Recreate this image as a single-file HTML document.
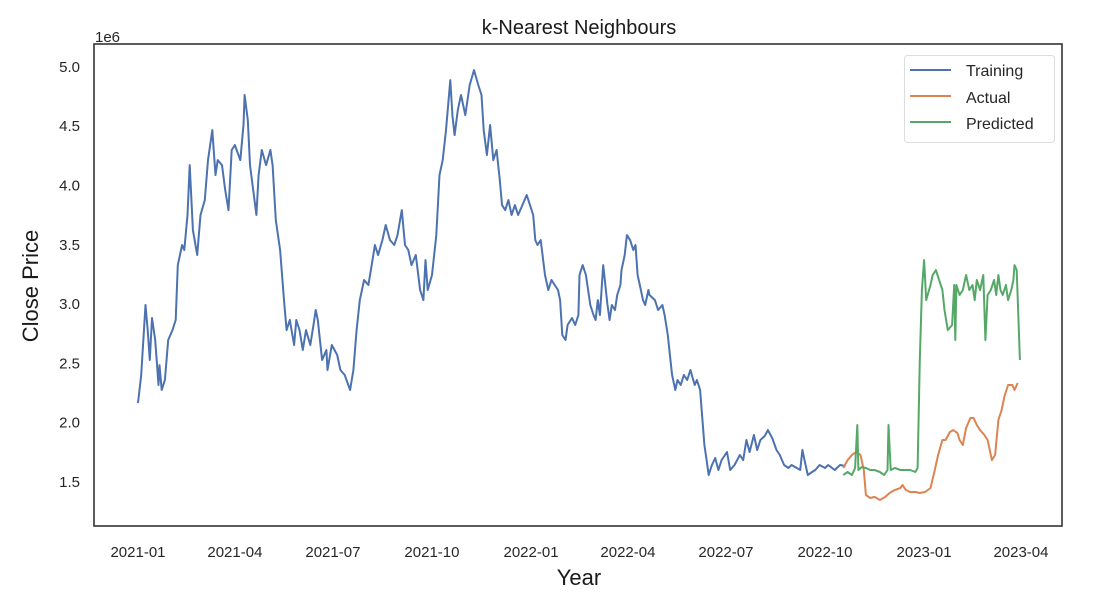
<!DOCTYPE html>
<html><head><meta charset="utf-8"><style>
body{margin:0;background:#fff;}
svg{display:block;font-family:"Liberation Sans",Arial,sans-serif;}
</style></head><body>
<svg id="chart" width="1094" height="597" viewBox="0 0 1094 597">
<rect x="0" y="0" width="1094" height="597" fill="#fff"/>
<text x="579" y="34" text-anchor="middle" font-size="20" fill="#1a1a1a">k-Nearest Neighbours</text>
<text x="95" y="42" font-size="15" fill="#262626">1e6</text>
<g id="yticks"></g>
<g id="xticks"></g>
<g id="series"></g>
<rect x="94" y="44" width="968" height="482" fill="none" stroke="#333" stroke-width="1.6"/>
<text x="579" y="585" text-anchor="middle" font-size="22" fill="#1a1a1a">Year</text>
<text x="0" y="0" transform="translate(38,286) rotate(-90)" text-anchor="middle" font-size="22" fill="#1a1a1a">Close Price</text>
<g>
<rect x="904.5" y="55.5" width="150" height="87" rx="3" fill="#fff" stroke="#ddd"/>
<g><line x1="910" y1="70" x2="951" y2="70" stroke="#4c72b0" stroke-width="2"/><text x="966" y="76" font-size="16" fill="#262626">Training</text></g>
<g><line x1="910" y1="96" x2="951" y2="96" stroke="#dd8452" stroke-width="2"/><text x="966" y="103" font-size="16" fill="#262626">Actual</text></g>
<g><line x1="910" y1="122" x2="951" y2="122" stroke="#55a868" stroke-width="2"/><text x="966" y="129" font-size="16" fill="#262626">Predicted</text></g>
</g>
</svg>
<script>
// days since 2021-01-01, values in millions
const trainDays=[0,3,7,9,11,13,16,19,20,22,25,28,32,35,37,41,43,46,48,51,55,58,62,65,69,72,74,78,81,84,87,90,95,98,99,102,104,107,110,112,115,119,123,125,128,132,136,138,141,145,147,150,153,156,160,163,165,167,171,175,176,180,185,188,192,197,200,203,206,210,214,217,220,223,227,230,234,238,241,245,248,251,254,258,262,265,267,269,273,277,280,283,286,290,292,294,297,300,304,308,312,316,319,321,324,327,330,333,336,338,341,344,347,350,353,357,361,364,367,369,371,374,378,381,384,387,390,392,394,397,399,403,406,409,410,413,416,420,423,425,427,429,432,435,436,438,440,443,445,448,449,452,454,457,460,462,464,466,469,471,474,475,480,483,487,489,492,494,496,499,501,504,507,510,513,517,519,522,526,528,530,533,536,539,542,547,550,554,559,562,565,568,572,575,578,582,585,589,593,596,600,604,607,615,617,619,622,626,629,633,638,641,647,652,657];
const trainVals=[2.166,2.402,2.992,2.781,2.529,2.883,2.697,2.318,2.486,2.276,2.36,2.697,2.781,2.866,3.329,3.498,3.456,3.751,4.172,3.624,3.414,3.751,3.877,4.214,4.467,4.088,4.214,4.172,3.962,3.793,4.299,4.341,4.214,4.51,4.763,4.552,4.172,3.962,3.751,4.088,4.299,4.172,4.299,4.172,3.709,3.456,2.992,2.781,2.866,2.655,2.866,2.781,2.613,2.781,2.655,2.824,2.95,2.866,2.529,2.613,2.444,2.655,2.571,2.444,2.402,2.276,2.444,2.781,3.034,3.203,3.161,3.329,3.498,3.414,3.54,3.667,3.54,3.498,3.582,3.793,3.498,3.456,3.329,3.414,3.119,3.034,3.371,3.119,3.245,3.582,4.088,4.214,4.467,4.889,4.594,4.425,4.636,4.763,4.594,4.847,4.973,4.847,4.763,4.467,4.257,4.51,4.214,4.299,4.046,3.835,3.793,3.877,3.751,3.835,3.751,3.835,3.92,3.835,3.751,3.54,3.498,3.54,3.245,3.119,3.203,3.161,3.119,3.034,2.739,2.697,2.824,2.883,2.824,2.908,3.245,3.329,3.245,2.992,2.908,2.866,3.034,2.908,3.329,3.077,2.992,2.866,2.992,2.95,3.077,3.161,3.287,3.414,3.582,3.54,3.456,3.498,3.245,3.161,3.034,2.992,3.119,3.077,3.034,2.95,2.992,2.908,2.739,2.571,2.402,2.276,2.36,2.318,2.402,2.36,2.444,2.318,2.36,2.276,1.812,1.685,1.559,1.643,1.702,1.601,1.685,1.753,1.601,1.643,1.728,1.685,1.854,1.753,1.896,1.77,1.854,1.888,1.938,1.871,1.77,1.728,1.643,1.618,1.643,1.601,1.77,1.685,1.559,1.584,1.601,1.643,1.618,1.643,1.601,1.643,1.635];
const actualDays=[655,659,663,667,671,674,676,680,684,689,694,698,703,708,710,713,717,722,726,731,736,740,743,747,750,754,757,761,763,766,769,773,776,779,782,786,789,793,796,799,802,805,808,812,814,817];
const actualVals=[1.618,1.685,1.728,1.753,1.728,1.601,1.39,1.365,1.374,1.348,1.374,1.407,1.433,1.449,1.475,1.433,1.416,1.416,1.407,1.416,1.449,1.601,1.728,1.854,1.854,1.922,1.938,1.913,1.854,1.812,1.955,2.04,2.04,1.981,1.938,1.896,1.854,1.685,1.728,2.023,2.107,2.233,2.318,2.318,2.276,2.335];
const predDays=[655,659,663,666,668,669,672,676,680,684,689,693,696,697,699,703,708,712,717,722,724,726,728,730,732,736,738,741,744,747,749,752,756,758,759,760,763,766,769,772,775,777,779,782,785,787,789,792,795,797,799,801,803,806,808,811,813,814,816,819];
const predVals=[1.559,1.584,1.559,1.618,1.981,1.601,1.626,1.618,1.601,1.601,1.584,1.559,1.601,1.981,1.601,1.618,1.601,1.601,1.601,1.584,1.618,2.529,3.119,3.371,3.034,3.161,3.245,3.287,3.203,3.119,2.95,2.781,2.824,3.161,2.697,3.161,3.077,3.119,3.245,3.119,3.161,3.034,3.203,3.119,3.245,2.697,3.077,3.119,3.203,3.077,3.245,3.119,3.077,3.161,3.034,3.119,3.203,3.329,3.287,2.529];
const yTickVals=[1.5,2.0,2.5,3.0,3.5,4.0,4.5,5.0];
const xTickDays=[0,90,181,273,365,455,546,638,730,820];
const xTickLabels=["2021-01","2021-04","2021-07","2021-10","2022-01","2022-04","2022-07","2022-10","2023-01","2023-04"];

const NS="http://www.w3.org/2000/svg";
function xs(d){return 138+d*1.0768;}
function ys(v){return 482-(v-1.5)*118.6;}

const yt=document.getElementById('yticks');
yTickVals.forEach(v=>{
  const t=document.createElementNS(NS,'text');
  t.setAttribute('x',80);t.setAttribute('y',ys(v)+5);
  t.setAttribute('text-anchor','end');t.setAttribute('font-size','15');t.setAttribute('fill','#262626');
  t.textContent=v.toFixed(1);
  
  
  yt.appendChild(t);
});
const xt=document.getElementById('xticks');
xTickDays.forEach((d,i)=>{
  const t=document.createElementNS(NS,'text');
  t.setAttribute('x',xs(d));t.setAttribute('y',557);
  t.setAttribute('text-anchor','middle');t.setAttribute('font-size','15');t.setAttribute('fill','#262626');
  t.textContent=xTickLabels[i];
  
  
  xt.appendChild(t);
});
const sg=document.getElementById('series');
function line(days,vals,color,name){
  const p=document.createElementNS(NS,'polyline');
  p.setAttribute('points',days.map((d,i)=>xs(d).toFixed(1)+','+ys(vals[i]).toFixed(1)).join(' '));
  p.setAttribute('fill','none');p.setAttribute('stroke',color);p.setAttribute('stroke-width','2');
  p.setAttribute('stroke-linejoin','round');
  
  
  sg.appendChild(p);
}
line(trainDays,trainVals,'#4c72b0','training-line');
line(actualDays,actualVals,'#dd8452','actual-line');
line(predDays,predVals,'#55a868','predicted-line');
</script>
</body></html>
